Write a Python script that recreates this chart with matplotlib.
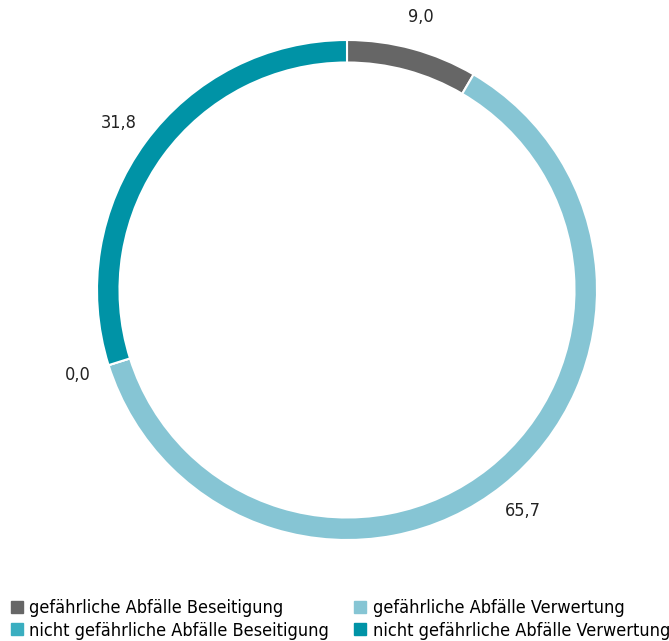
import matplotlib
matplotlib.use("Agg")
import matplotlib.pyplot as plt
from matplotlib.lines import Line2D

categories = ["gefährliche Abfälle Beseitigung", "gefährliche Abfälle Verwertung",
              "nicht gefährliche Abfälle Beseitigung", "nicht gefährliche Abfälle Verwertung"]
values = [9.0, 65.7, 0.0, 31.8]
value_labels = ["9,0", "65,7", "0,0", "31,8"]
colors = ["#666666", "#86C5D4", "#3AAEC0", "#0093A6"]

plt.rcParams['font.family'] = ['DejaVu Sans']
plt.rcParams['font.stretch'] = 'condensed'

fig = plt.figure(figsize=(6.69, 6.41), dpi=100)
ax = fig.add_axes([97/669, 101/641, 500/669, 500/641])
wedges, texts = ax.pie(values, labels=value_labels, colors=colors, startangle=90,
                       counterclock=False, labeldistance=1.13,
                       wedgeprops=dict(width=0.09, edgecolor="white", linewidth=1.5),
                       textprops=dict(ha="center", va="center", fontsize=13, color="#222222",
                                      fontstretch="condensed"))
ax.set_xlim(-1, 1)
ax.set_ylim(-1, 1)
ax.set_aspect("equal")

handles = [Line2D([], [], marker="s", linestyle="none", markersize=8,
                  markerfacecolor=c, markeredgecolor=c) for c in colors]
order = [0, 2, 1, 3]
fig.legend([handles[i] for i in order], [categories[i] for i in order],
           loc="upper left", bbox_to_anchor=(0.013, 0.068), ncol=2, frameon=False,
           prop=dict(size=13, stretch="condensed"), handlelength=0.7, handletextpad=0.35,
           columnspacing=1.35, labelspacing=0.25, borderaxespad=0, borderpad=0.1)

fig.savefig("out.png", dpi=100)
